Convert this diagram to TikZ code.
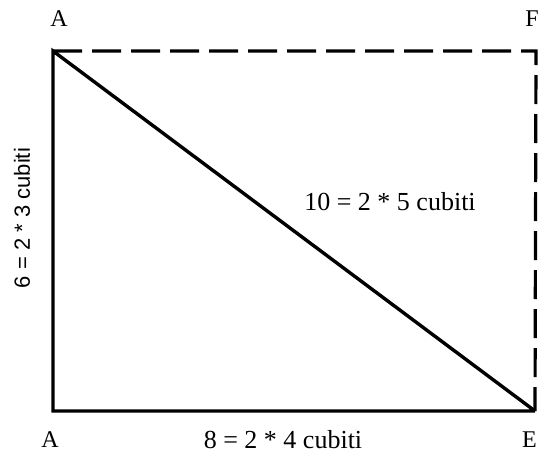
\documentclass[tikz,border=0pt]{standalone}
\usepackage{fontspec}
\setmainfont{Liberation Serif}
\setsansfont{Liberation Sans}
\usetikzlibrary{positioning}
\tikzset{
  cubside/.style={line width=3.4pt,line join=miter},
  cubdash/.style={line width=3.2pt,dash pattern=on 29pt off 10pt},
  cubpt/.style={font=\fontsize{24}{24}\selectfont,inner sep=0pt},
  cublabel/.style={font=\fontsize{26}{26}\selectfont,inner sep=0pt}
}

\begin{document}
\begin{tikzpicture}[x=1pt,y=-1pt]
  \useasboundingbox (0,0) rectangle (541,453);
  % corners of the rectangle
  \coordinate (top) at (53,51);
  \coordinate (topr) at (536,51);
  \coordinate (base) at (53,411);
  \coordinate (baser) at (535,411);
  % corner letters
  \node[cubpt] (A1) at (59,19) {A};
  \node[cubpt,anchor=east] (F) at (539,19) {F};
  \node[cubpt] (A2) at (50,440) {A};
  \node[cubpt,anchor=east] (E) at (537,440) {E};
  % sides
  \draw[cubdash] (top) -- (topr) -- (baser);
  \draw[cubside] (baser) -- (base) -- (top) -- (baser);
  % measures
  \node[cublabel] (hyp) at (390,202) {10 = 2 * 5 cubiti};
  \node[cublabel] (width) at (283,440) {8 = 2 * 4 cubiti};
  \node[cublabel,font=\sffamily\fontsize{22}{22}\selectfont,rotate=90]
    (height) at (22,218) {6 = 2 * 3 cubiti};
\end{tikzpicture}
\end{document}
